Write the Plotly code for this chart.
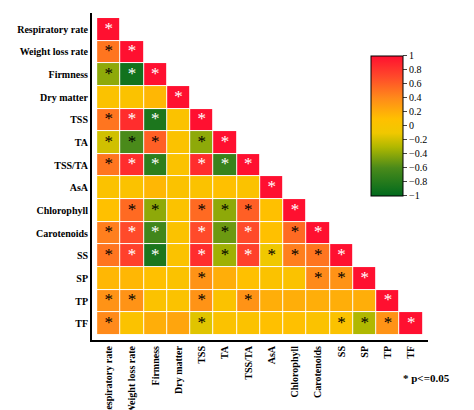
import plotly.graph_objects as go

labels = ["Respiratory rate", "Weight loss rate", "Firmness", "Dry matter", "TSS", "TA",
          "TSS/TA", "AsA", "Chlorophyll", "Carotenoids", "SS", "SP", "TP", "TF"]

# lower triangle correlations (row i, cols 0..i)
corr_rows = [
    [1],
    [0.5, 1],
    [-0.4, -0.9, 1],
    [0.05, 0.05, 0.15, 1],
    [0.5, 0.85, -0.85, 0.05, 1],
    [-0.2, -0.6, 0.6, 0.05, -0.4, 1],
    [0.5, 0.85, -0.75, 0.05, 0.85, -0.7, 1],
    [0.05, 0.05, 0.15, 0.05, 0.05, 0.1, 0.05, 1],
    [0.1, 0.55, -0.4, 0.05, 0.55, -0.4, 0.6, 0.1, 1],
    [0.45, 0.7, -0.65, 0.05, 0.7, -0.5, 0.7, 0.1, 0.55, 1],
    [0.5, 0.75, -0.85, 0.05, 0.85, -0.35, 0.75, -0.1, 0.45, 0.5, 1],
    [0.15, 0.15, 0.1, 0.05, 0.35, 0.2, 0.1, 0.05, 0.05, 0.4, 0.35, 1],
    [0.35, 0.35, 0.05, 0.05, 0.35, 0.05, 0.35, 0.2, 0.2, 0.2, 0.2, 0.2, 1],
    [0.4, 0.05, 0.2, 0.25, -0.15, 0.05, 0.05, 0.1, 0.1, 0.05, 0.05, -0.3, 0.35, 1],
]

sig_rows = [
    [1],
    [1, 1],
    [1, 1, 1],
    [0, 0, 0, 1],
    [1, 1, 1, 0, 1],
    [1, 1, 1, 0, 1, 1],
    [1, 1, 1, 0, 1, 1, 1],
    [0, 0, 0, 0, 0, 0, 0, 1],
    [0, 1, 1, 0, 1, 1, 1, 0, 1],
    [1, 1, 1, 0, 1, 1, 1, 0, 1, 1],
    [1, 1, 1, 0, 1, 1, 1, 1, 1, 1, 1],
    [0, 0, 0, 0, 1, 0, 0, 0, 0, 1, 1, 1],
    [1, 1, 0, 0, 1, 0, 1, 0, 0, 0, 0, 0, 1],
    [1, 0, 0, 0, 1, 0, 0, 0, 0, 0, 1, 1, 1, 1],
]

n = len(labels)
z = [[corr_rows[i][j] if j <= i else None for j in range(n)] for i in range(n)]

colorscale = [
    [0.0, "#006a1e"], [0.2, "#4a8a1a"], [0.35, "#b0b800"], [0.45, "#f0c800"],
    [0.55, "#ffc000"], [0.7, "#ff8a1a"], [0.85, "#ff4a2a"], [1.0, "#ff1030"],
]

fig = go.Figure()
fig.add_trace(go.Heatmap(
    z=z, x=labels, y=labels, zmin=-1, zmax=1, colorscale=colorscale,
    xgap=1, ygap=1, hoverongaps=False,
    colorbar=dict(x=0.80, xanchor="left", y=0.90, yanchor="top", len=0.49,
                  thickness=32, outlinecolor="black", outlinewidth=1,
                  tickvals=[-1, -0.8, -0.6, -0.4, -0.2, 0, 0.2, 0.4, 0.6, 0.8, 1],
                  ticks="outside", ticklen=4,
                  tickfont=dict(family="Liberation Serif", size=10, color="black")),
))

for color, strong in [("white", True), ("black", False)]:
    xs, ys = [], []
    for i in range(n):
        for j in range(i + 1):
            if sig_rows[i][j] and ((abs(corr_rows[i][j]) > 0.6) == strong):
                xs.append(labels[j])
                ys.append(labels[i])
    fig.add_trace(go.Scatter(
        x=xs, y=ys, mode="text", text=["*"] * len(xs), showlegend=False,
        textfont=dict(family="Liberation Serif", size=17, color=color),
        textposition="middle center", hoverinfo="skip",
    ))

fig.add_annotation(text="<b>* p<=0.05</b>", xref="paper", yref="paper", x=1.07, xanchor="right",
                   y=-0.14, showarrow=False,
                   font=dict(family="Liberation Serif", size=11, color="black"))

fig.update_layout(
    width=474, height=410, margin=dict(l=84, r=54, t=5, b=78),
    plot_bgcolor="white", paper_bgcolor="white", showlegend=False,
    font=dict(family="Liberation Serif", size=10, color="black"),
    xaxis=dict(tickangle=-90, showgrid=False, zeroline=False, showline=True,
               linecolor="black", linewidth=2, tickfont=dict(size=10),
               categoryorder="array", categoryarray=labels, automargin=False),
    yaxis=dict(autorange="reversed", showgrid=False, zeroline=False, showline=True,
               linecolor="black", linewidth=2, tickfont=dict(size=10),
               categoryorder="array", categoryarray=labels, automargin=False),
)
fig.update_xaxes(tickprefix="<b>", ticksuffix="</b>")
fig.update_yaxes(tickprefix="<b>", ticksuffix="</b>")

fig.write_html("out.html")
